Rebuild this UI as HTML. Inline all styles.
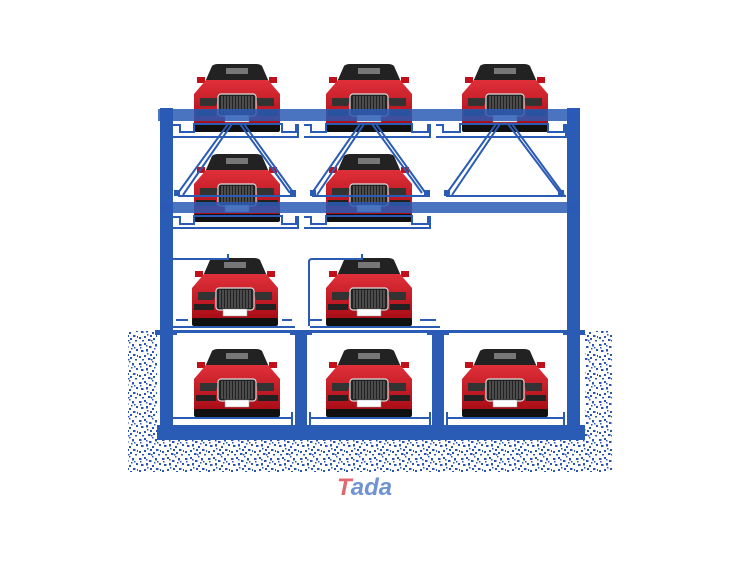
<!DOCTYPE html>
<html><head><meta charset="utf-8"><style>html,body{margin:0;padding:0;background:#fff}svg{display:block}</style></head><body>
<svg width="740" height="580" viewBox="0 0 740 580" xmlns="http://www.w3.org/2000/svg">
<defs>
<pattern id="sp" width="23" height="19" patternUnits="userSpaceOnUse">
<g fill="#2c55b0">
<rect x="1" y="2" width="2.5" height="2"/><rect x="6" y="1" width="2" height="2"/><rect x="11" y="4" width="2.5" height="2"/><rect x="17" y="2" width="2" height="2.5"/><rect x="21" y="7" width="2" height="2"/>
<rect x="3" y="8" width="2.5" height="2"/><rect x="8" y="7" width="2" height="2.5"/><rect x="14" y="9" width="2" height="2"/><rect x="18" y="12" width="2.5" height="2"/><rect x="1" y="14" width="2" height="2"/>
<rect x="6" y="13" width="2" height="2"/><rect x="10" y="16" width="2.5" height="2"/><rect x="15" y="15" width="2" height="2"/><rect x="20" y="17" width="2" height="1.5"/><rect x="12" y="12" width="2" height="2"/>
<rect x="4" y="17" width="2" height="1.5"/><rect x="9" y="11" width="1.5" height="1.5"/><rect x="19" y="5" width="1.5" height="1.5"/><rect x="14" y="0" width="1.5" height="1.5"/><rect x="2" y="5" width="1.5" height="1.5"/>
<rect x="16" y="6" width="1.5" height="1.5"/><rect x="22" y="13" width="1" height="2"/><rect x="8" y="3" width="1.5" height="1.5"/><rect x="13" y="17" width="1.5" height="1.5"/>
</g></pattern>
<linearGradient id="rg" x1="0" y1="0" x2="0" y2="1"><stop offset="0" stop-color="#e0303a"/><stop offset="1" stop-color="#a80c16"/></linearGradient>
<g id="car">
<path d="M20 2 Q22 0 26 0 H64 Q68 0 70 2 L77 18 H13 Z" fill="#222"/>
<rect x="34" y="4" width="22" height="6" fill="#777"/>
<path d="M5 13 h8 v6 h-8 z M77 13 h8 v6 h-8z" fill="#c0101a"/>
<path d="M14 16 H76 L88 30 V62 H2 V30 Z" fill="url(#rg)"/>
<path d="M8 34 h18 l-2 8 h-16z M64 34 h18 v8 h-16z" fill="#333"/>
<rect x="26" y="30" width="38" height="22" rx="3" fill="#222" stroke="#ddd" stroke-width="1.2"/>
<g stroke="#777" stroke-width="1"><path d="M30 32v18M33 32v18M36 32v18M39 32v18M42 32v18M45 32v18M48 32v18M51 32v18M54 32v18M57 32v18M60 32v18"/></g>
<rect x="33" y="51" width="24" height="7" fill="#fff" stroke="#999" stroke-width="0.5"/>
<path d="M4 46 h20 v6 h-20z M66 46 h20 v6 h-20z" fill="#222"/>
<rect x="2" y="60" width="86" height="8" rx="2" fill="#111"/>
</g>
</defs>
<rect x="128" y="331" width="484" height="141" fill="url(#sp)"/>
<rect x="157" y="333" width="428" height="107" fill="#fff"/>
<use href="#car" x="192" y="64"/><use href="#car" x="324" y="64"/><use href="#car" x="460" y="64"/>
<use href="#car" x="192" y="154"/><use href="#car" x="324" y="154"/>
<use href="#car" x="190" y="258"/><use href="#car" x="324" y="258"/>
<use href="#car" x="192" y="349"/><use href="#car" x="324" y="349"/><use href="#car" x="460" y="349"/>
<g fill="#2a5bb5" stroke="#2a5bb5">
<rect x="160" y="108" width="13" height="332" stroke="none"/>
<rect x="567" y="108" width="13" height="332" stroke="none"/>
<rect x="295" y="333" width="12" height="107" stroke="none"/>
<rect x="432" y="333" width="12" height="107" stroke="none"/>
<rect x="158" y="109" width="422" height="12" stroke="none" opacity="0.85"/>
<rect x="160" y="202" width="420" height="11" stroke="none" opacity="0.85"/>
<rect x="157" y="425" width="428" height="15" stroke="none"/>
<rect x="155" y="330" width="430" height="3" stroke="none"/>
<rect x="155" y="331" width="22" height="4" stroke="none"/><rect x="290" y="331" width="22" height="4" stroke="none"/><rect x="427" y="331" width="22" height="4" stroke="none"/><rect x="563" y="331" width="22" height="4" stroke="none"/>
</g>
<g fill="none" stroke="#2a5bb5" stroke-width="2">
<path d="M173 125 H180 V132 H194 V124 H282 V132 H296 V125 H298 V137 H173"/>
<path d="M304 125 H311 V132 H326 V124 H412 V132 H428 V125 H430 V137 H304"/>
<path d="M436 125 H443 V132 H460 V124 H548 V132 H564 V125 H566 V137 H436"/>
<path d="M173 217 H180 V224 H194 V216 H282 V224 H296 V217 H298 V228 H173"/>
<path d="M304 217 H311 V224 H326 V216 H412 V224 H428 V217 H430 V228 H304"/>
<path d="M228 124 L178 193 M232 124 L183 195 M240 124 L290 193 M244 124 L295 195"/>
<path d="M360 124 L312 193 M364 124 L317 195 M372 124 L422 193 M376 124 L427 195"/>
<path d="M496 124 L447 193 M500 124 L452 195 M508 124 L560 193 M512 124 L564 195"/>
<path d="M178 196 H296 M312 196 H430 M446 196 H566"/>
<path d="M173 259 H228 V254"/>
<path d="M309 326 V262 Q309 259 312 259 H362 V254"/>
<path d="M173 327 H295 M176 320 H188 M282 320 H292 M310 327 H440 M310 320 H322 M420 320 H436"/>
<path d="M172 418 H292 M172 412 V425 M292 412 V425"/>
<path d="M310 418 H430 M310 412 V425 M430 412 V425"/>
<path d="M447 418 H564 M447 412 V425 M564 412 V425"/>
</g>
<g fill="#2a5bb5"><rect x="174" y="190" width="6" height="6"/><rect x="290" y="190" width="6" height="6"/><rect x="310" y="190" width="6" height="6"/><rect x="424" y="190" width="6" height="6"/><rect x="444" y="190" width="6" height="6"/><rect x="558" y="190" width="6" height="6"/></g>
<text x="337" y="495" font-family="Liberation Sans, sans-serif" font-size="24" font-weight="bold" font-style="italic"><tspan fill="#e06870">T</tspan><tspan fill="#6f93d3">ada</tspan></text>
</svg>
</body></html>
